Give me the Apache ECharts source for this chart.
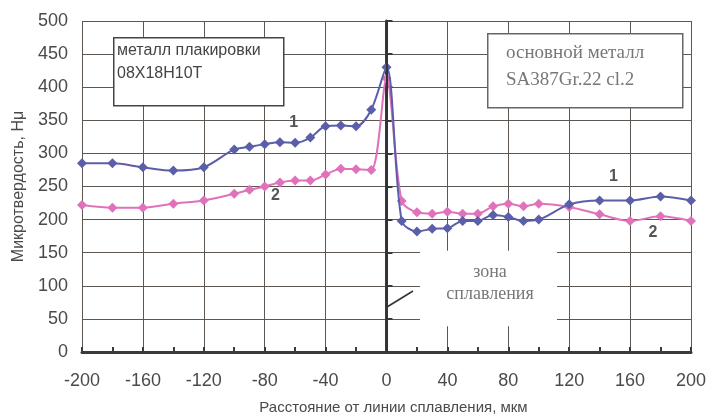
<!DOCTYPE html>
<html><head><meta charset="utf-8">
<script src="https://cdn.jsdelivr.net/npm/echarts@6/dist/echarts.min.js"></script>
<style>html,body{margin:0;padding:0;background:#fff}#c{width:709px;height:420px}</style>
</head><body><div id="c"></div>
<script>
// Distance from fusion line, µm
const xLeft = [-200, -180, -160, -140, -120, -100, -90, -80, -70, -60, -50, -40, -30, -20, -10, 0];
const xRight = [10, 20, 30, 40, 50, 60, 70, 80, 90, 100, 120, 140, 160, 180, 200];
// Series 1 (blue) microhardness
const s1Left = [285, 285, 279, 274, 279, 306, 310, 314, 317, 316, 324, 341, 342, 341, 366, 430];
const s1Right = [198, 182, 186, 187, 198, 198, 207, 204, 198, 200, 223, 229, 229, 235, 229];
// Series 2 (pink) microhardness
const s2Left = [222, 218, 218, 224, 229, 239, 245, 250, 256, 259, 259, 268, 277, 276, 275, 413];
const s2Right = [228, 211, 209, 212, 209, 209, 220, 224, 220, 224, 219, 208, 198, 205, 198];

const xs = xLeft.concat(xRight);
const s1 = s1Left.concat(s1Right);
const s2 = s2Left.concat(s2Right);
const pairs = (x, y) => x.map((v, i) => [v, y[i]]);

const chart = echarts.init(document.getElementById('c'));
const gridCol = '#5e5650';
const txtCol = '#4a4a4a';
const blue = '#5b5ea8';
const pink = '#e072bb';

function seriesLabel(coord, text) {
  return { coord: coord, value: text, symbol: 'circle', symbolSize: 1,
    itemStyle: { color: 'rgba(0,0,0,0)' },
    label: { show: true, position: 'inside', formatter: text, color: '#555', fontSize: 16, fontWeight: 'bold', fontFamily: 'Liberation Sans, Arial' } };
}

chart.setOption({
  animation: false,
  backgroundColor: '#fff',
  grid: { left: 82, right: 17, top: 21, bottom: 64 },
  xAxis: {
    type: 'value', min: -200, max: 200, interval: 40,
    name: 'Расстояние от линии сплавления, мкм', nameLocation: 'middle', nameGap: 48,
    nameTextStyle: { fontSize: 15, color: txtCol, fontFamily: 'Liberation Sans, Arial', padding: [0, 0, 0, 14] },
    axisLine: { show: true, onZero: false, lineStyle: { color: '#3a3a3a', width: 3 } },
    axisTick: { show: true, inside: true, length: 5, lineStyle: { color: '#3a3a3a', width: 2 } },
    minorTick: { show: true, splitNumber: 2, length: 5, lineStyle: { color: '#3a3a3a', width: 2 } },
    axisLabel: { fontSize: 18, color: txtCol, margin: 20, fontFamily: 'Liberation Sans, Arial' },
    splitLine: { show: true, lineStyle: { color: gridCol, width: 1 } }
  },
  yAxis: {
    type: 'value', min: 0, max: 500, interval: 50,
    name: 'Микротвердость, Hμ', nameLocation: 'middle', nameGap: 54,
    nameTextStyle: { fontSize: 16, color: txtCol, fontFamily: 'Liberation Sans, Arial' },
    axisLine: { show: true, lineStyle: { color: '#3a3a3a', width: 3 } },
    axisTick: { show: true, inside: true, length: 6, lineStyle: { color: '#3a3a3a', width: 2 } },
    axisLabel: { fontSize: 18, color: txtCol, margin: 14, fontFamily: 'Liberation Sans, Arial' },
    splitLine: { show: true, lineStyle: { color: gridCol, width: 1 } }
  },
  series: [
    {
      type: 'line', name: '1', data: pairs(xs, s1), smooth: 0.3,
      symbol: 'diamond', symbolSize: 10,
      lineStyle: { color: blue, width: 2 }, itemStyle: { color: blue },
      markLine: {
        silent: true, symbol: 'none', label: { show: false },
        lineStyle: { color: '#333', width: 2, type: 'solid' },
        data: [{ xAxis: 0 }]
      },
      markPoint: { data: [seriesLabel([-61, 347], '1'), seriesLabel([149, 265], '1')] },
      z: 3
    },
    {
      type: 'line', name: '2', data: pairs(xs, s2), smooth: 0.3,
      symbol: 'diamond', symbolSize: 10,
      lineStyle: { color: pink, width: 2 }, itemStyle: { color: pink },
      markPoint: { data: [seriesLabel([-73, 236], '2'), seriesLabel([175, 181], '2')] },
      markArea: {
        silent: true,
        itemStyle: { color: '#ffffff', opacity: 1 },
        label: { show: false },
        data: [[{ coord: [22, 153] }, { coord: [112, 39] }]]
      },
      z: 2
    }
  ],
  graphic: [
    { type: 'rect', left: 113, top: 37, shape: { width: 170, height: 68 },
      style: { fill: '#fff', stroke: '#444', lineWidth: 1.5 }, z: 100 },
    { type: 'text', left: 117, top: 39, z: 101,
      style: { text: 'металл плакировки\n08Х18Н10Т', fill: '#444', font: '16px "Liberation Sans", Arial', lineHeight: 23 } },
    { type: 'rect', left: 487, top: 33, shape: { width: 195, height: 74 },
      style: { fill: '#fff', stroke: '#666', lineWidth: 1.5 }, z: 100 },
    { type: 'text', left: 506, top: 40, z: 101,
      style: { text: 'основной металл\nSA387Gr.22 cl.2', fill: '#777', font: '19px "Liberation Serif", "Times New Roman", serif', lineHeight: 27 } },
    { type: 'text', z: 101,
      style: { x: 490, y: 261, text: 'зона\nсплавления', fill: '#777', align: 'center', verticalAlign: 'top', font: '18px "Liberation Serif", "Times New Roman", serif', lineHeight: 22 } },
    { type: 'line', z: 101, shape: { x1: 387, y1: 307, x2: 413, y2: 291 }, style: { stroke: '#333', lineWidth: 1.5 } }
  ]
});
</script></body></html>
